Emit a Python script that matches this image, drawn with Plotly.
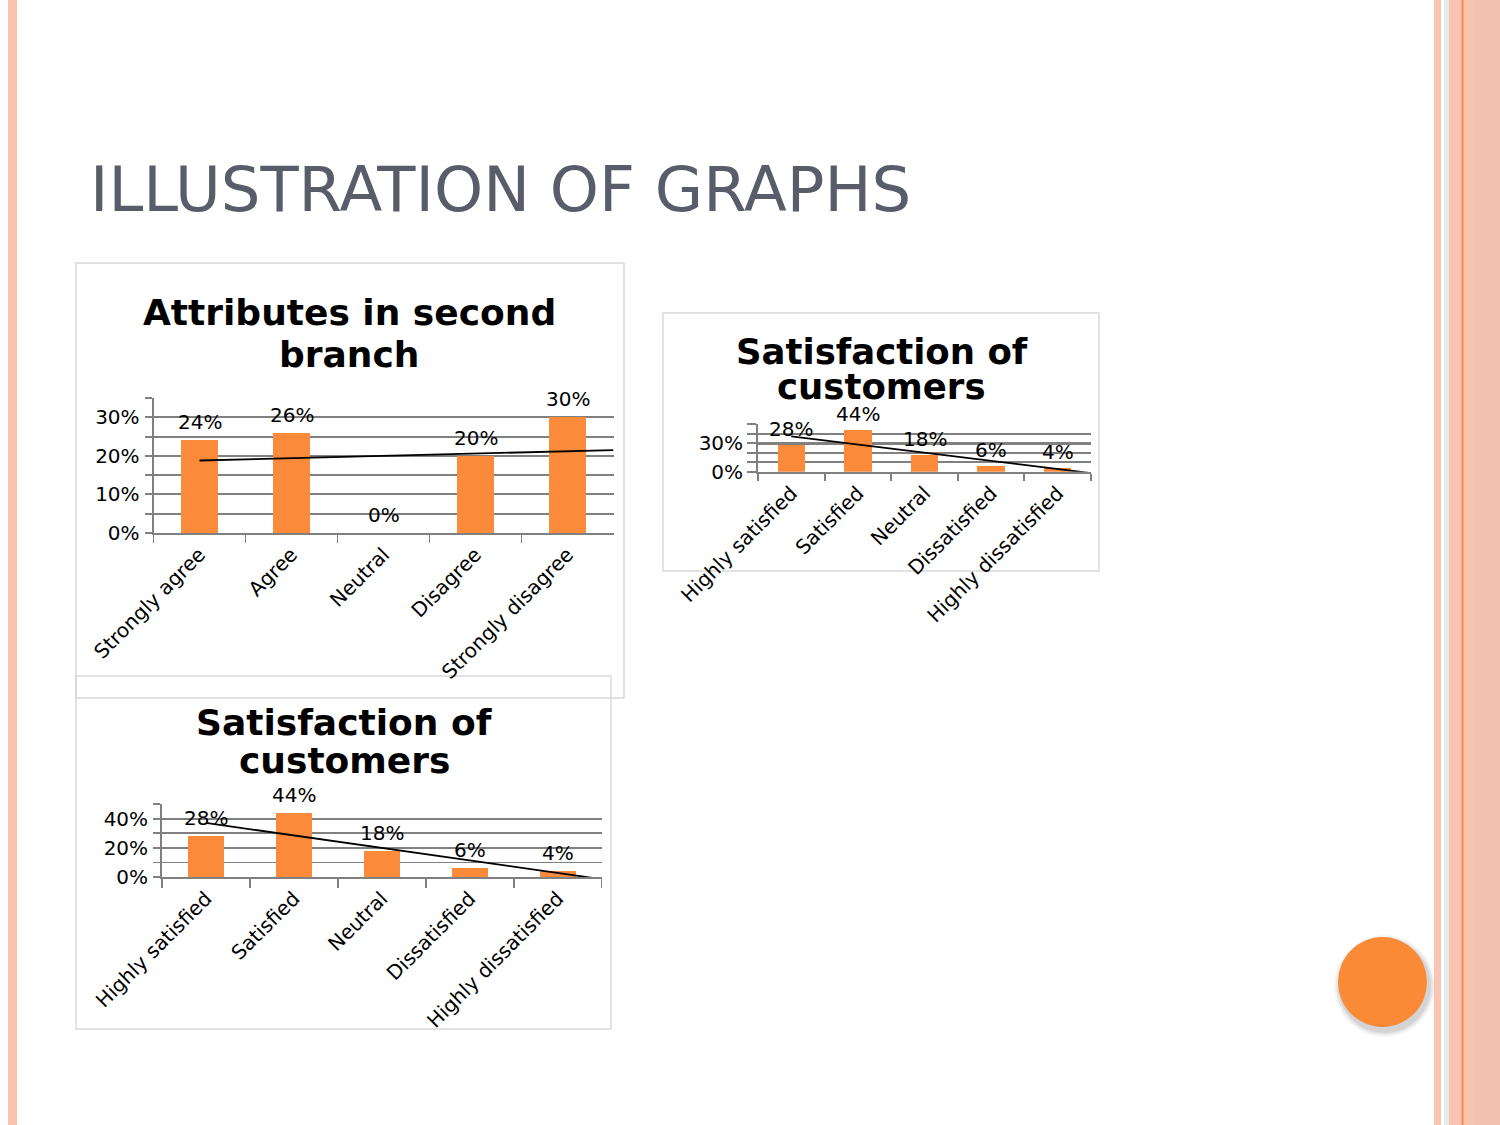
import numpy as np
import plotly.graph_objects as go

W, H = 1500, 1125
FONT = "DejaVu Sans"

# ---------------- data ----------------
attr_categories = ["Strongly agree", "Agree", "Neutral", "Disagree", "Strongly disagree"]
attr_values = [0.24, 0.26, 0.00, 0.20, 0.30]

sat_categories = ["Highly satisfied", "Satisfied", "Neutral", "Dissatisfied", "Highly dissatisfied"]
sat_values_right = [0.28, 0.44, 0.18, 0.06, 0.04]
sat_values_bottom = [0.28, 0.44, 0.18, 0.06, 0.04]

slide_title = "ILLUSTRATION OF GRAPHS"
chart1_title = ["Attributes in second", "branch"]
chart2_title = ["Satisfaction of", "customers"]
chart3_title = ["Satisfaction of", "customers"]

BAR = "#FB8A3A"
GRID = "#808080"
BORDER = "#D9D9D9"
TXT = 20


def px(x):
    return x / W


def py(y):
    return 1 - y / H


def trend(vals):
    xs = np.arange(1, len(vals) + 1)
    m, b = np.polyfit(xs, np.array(vals, dtype=float), 1)
    xt = np.array([1.0, len(vals) + 0.5])
    return xt, m * xt + b


charts = [
    dict(cats=attr_categories, vals=attr_values, title=chart1_title, tsize=36,
         xdom=(153.5, 613.5), ydom=(533, 398), yrange=0.3501, dtick=0.1, minor=0.05,
         ylen=7, xlen=8, ystand=1, lab_shift=4, major_w=1.9,
         title_x=349, title_y=(312.5, 354.5)),
    dict(cats=sat_categories, vals=sat_values_right, title=chart2_title, tsize=35.5,
         xdom=(758, 1091), ydom=(471.7, 424.3), yrange=0.5001, dtick=0.3, minor=0.1,
         ylen=9, xlen=7, ystand=0, lab_shift=2, major_w=2.8,
         title_x=881.5, title_y=(351, 386)),
    dict(cats=sat_categories, vals=sat_values_bottom, title=chart3_title, tsize=36,
         xdom=(162, 601.5), ydom=(877, 804.3), yrange=0.5001, dtick=0.2, minor=0.1,
         ylen=7, xlen=9, ystand=1, lab_shift=4, major_w=1.9,
         title_x=344, title_y=(722.5, 760.5)),
]

fig = go.Figure()
layout = dict(
    width=W, height=H, margin=dict(l=0, r=0, t=0, b=0),
    paper_bgcolor="white", plot_bgcolor="rgba(0,0,0,0)",
    showlegend=False, font=dict(family=FONT, color="black"),
    bargap=0,
)
annotations = []

for i, c in enumerate(charts, start=1):
    sx = "" if i == 1 else str(i)
    xa, ya = "x" + sx, "y" + sx
    tx = "x" + str(i + 3)
    fig.add_trace(go.Bar(x=c["cats"], y=c["vals"], marker=dict(color=BAR, line=dict(width=0)),
                         width=0.41, xaxis=xa, yaxis=ya, hoverinfo="skip"))
    xt, yt = trend(c["vals"])
    fig.add_trace(go.Scatter(x=xt, y=yt, mode="lines", line=dict(color="black", width=1.8),
                             xaxis=tx, yaxis=ya, hoverinfo="skip"))
    layout["xaxis" + sx] = dict(
        domain=[px(c["xdom"][0]), px(c["xdom"][1])], anchor=ya, type="category",
        range=[-0.5, len(c["cats"]) - 0.5], showline=True, linecolor=GRID, linewidth=1.9,
        ticks="outside", tickson="boundaries", ticklen=c["xlen"], tickcolor=GRID, tickwidth=1.9,
        tickangle=-45, tickfont=dict(family=FONT, size=TXT, color="black"),
        ticklabelstandoff=0,
        showgrid=False, zeroline=False, fixedrange=True, automargin=False,
    )
    layout["yaxis" + sx] = dict(
        domain=[py(c["ydom"][0]), py(c["ydom"][1])], anchor=xa,
        range=[0, c["yrange"]], tick0=0, dtick=c["dtick"], tickformat=".0%",
        showline=True, linecolor=GRID, linewidth=1.9,
        ticks="outside", ticklen=c["ylen"], tickcolor=GRID, tickwidth=1.9,
        tickfont=dict(family=FONT, size=TXT, color="black"), ticklabelstandoff=c["ystand"],
        showgrid=True, gridcolor=GRID, gridwidth=c["major_w"],
        minor=dict(dtick=c["minor"], tick0=0, showgrid=True, gridcolor=GRID, gridwidth=1.9,
                   ticks="outside", ticklen=c["ylen"], tickcolor=GRID, tickwidth=1.9),
        zeroline=False, fixedrange=True, automargin=False,
    )
    layout["xaxis" + str(i + 3)] = dict(overlaying=xa, anchor=ya, range=[0.5, len(c["cats"]) + 0.5],
                                        visible=False, fixedrange=True)
    for cat, v in zip(c["cats"], c["vals"]):
        annotations.append(dict(x=cat, y=v, xref=xa, yref=ya, text=f"{v:.0%}", showarrow=False,
                                yanchor="bottom", xanchor="center", yshift=c["lab_shift"],
                                font=dict(family=FONT, size=TXT, color="black")))
    for line, ty in zip(c["title"], c["title_y"]):
        annotations.append(dict(x=px(c["title_x"]), y=py(ty), xref="paper", yref="paper",
                                text=f"<b>{line}</b>", showarrow=False, xanchor="center",
                                yanchor="middle", font=dict(family=FONT, size=c["tsize"], color="black")))

annotations.append(dict(x=px(88), y=py(190), xref="paper", yref="paper", text=slide_title,
                        showarrow=False, xanchor="left", yanchor="middle",
                        font=dict(family=FONT, size=62.5, color="#595C69")))


def rect(x0, y0, x1, y1, fill=None, line=None, lw=0, layer="below"):
    return dict(type="rect", xref="paper", yref="paper", x0=px(x0), x1=px(x1), y0=py(y1), y1=py(y0),
                fillcolor=fill if fill else "rgba(0,0,0,0)",
                line=dict(color=line if line else "rgba(0,0,0,0)", width=lw), layer=layer)


shapes = [
    # left stripe
    rect(8, 0, 17, H, fill="#FCC4AF"),
    # right decorative band
    rect(1434, 0, 1441, H, fill="#F9C6B3"),
    rect(1441, 0, 1444, H, fill="#FFFFFF"),
    rect(1444, 0, 1449, H, fill="#E6ECE8"),
    rect(1449, 0, W, H, fill="#F6C4B0"),
    rect(1475, 0, W, H, fill="#F3C2AF"),
    dict(type="line", xref="paper", yref="paper", x0=px(1462.5), x1=px(1462.5), y0=0, y1=1,
         line=dict(color="#F58A50", width=2), layer="below"),
    # chart boxes
    rect(76, 263, 624, 698, line=BORDER, lw=1.5),
    rect(663, 313, 1099, 571, line=BORDER, lw=1.5),
    rect(76, 676, 611, 1029, line=BORDER, lw=1.5),
]

# orange circle with soft shadow
for d, op in [(6, 0.04), (4, 0.06), (2, 0.08)]:
    shapes.append(dict(type="circle", xref="paper", yref="paper",
                       x0=px(1338 - d + 2), x1=px(1427 + d + 2), y0=py(1027 + d + 4), y1=py(937 - d + 4),
                       fillcolor=f"rgba(0,0,0,{op})", line=dict(width=0), layer="above"))
shapes.append(dict(type="circle", xref="paper", yref="paper",
                   x0=px(1338), x1=px(1427), y0=py(1027), y1=py(937),
                   fillcolor="#FB8A36", line=dict(width=0), layer="above"))

layout["annotations"] = annotations
layout["shapes"] = shapes
fig.update_layout(**layout)

fig.write_html("out.html", config={"displayModeBar": False, "staticPlot": True},
               post_script="document.body.style.margin='0';")
